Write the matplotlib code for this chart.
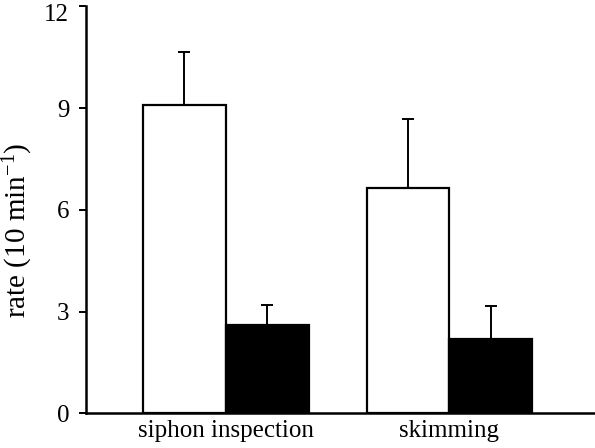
import numpy as np
import matplotlib.pyplot as plt
import matplotlib.transforms as mtransforms

plt.rcParams['font.family'] = ['Liberation Serif', 'DejaVu Serif']
plt.rcParams['mathtext.fontset'] = 'custom'
plt.rcParams['mathtext.rm'] = 'Liberation Serif'
plt.rcParams['mathtext.it'] = 'Liberation Serif:italic'
plt.rcParams['mathtext.bf'] = 'Liberation Serif:bold'

categories = ['siphon inspection', 'skimming']
white_vals = [9.09, 6.65]
white_err = [1.58, 2.03]
black_vals = [2.60, 2.18]
black_err = [0.60, 0.99]

fig = plt.figure(figsize=(5.95, 4.48), dpi=100)
ax = fig.add_axes([0.1445, 0.0775, 0.8555, 0.908])

x = np.arange(len(categories))
w = 0.371

ax.bar(x - w/2, white_vals, w, color='white', edgecolor='black', linewidth=1.6,
       yerr=[np.zeros(2), white_err], capsize=4.3,
       error_kw=dict(elinewidth=1.4, capthick=1.4, ecolor='black'))
ax.bar(x + w/2, black_vals, w, color='black', edgecolor='black', linewidth=1.6,
       yerr=[np.zeros(2), black_err], capsize=4.3,
       error_kw=dict(elinewidth=1.4, capthick=1.4, ecolor='black'))

ax.set_xlim(-0.626, 1.651)
ax.set_ylim(0, 12)
ax.set_yticks([0, 3, 6, 9, 12])
ax.set_xticks(x)
ax.set_xticklabels(categories, fontsize=18)
ax.tick_params(axis='x', length=0, pad=5)
ax.tick_params(axis='y', length=5, width=1.4, labelsize=18, direction='out', pad=7)

# keep the top label inside the figure
top_lab = ax.get_yticklabels()[-1]
top_lab.set_transform(top_lab.get_transform() +
                      mtransforms.ScaledTranslation(0, -4/72, fig.dpi_scale_trans))

for s in ['top', 'right']:
    ax.spines[s].set_visible(False)
for s in ['left', 'bottom']:
    ax.spines[s].set_linewidth(1.8)

ax.set_ylabel('rate (10 min$^{-1}$)', fontsize=21)
ax.yaxis.set_label_coords(-0.1, 0.45)

fig.savefig('out.png', dpi=100)
